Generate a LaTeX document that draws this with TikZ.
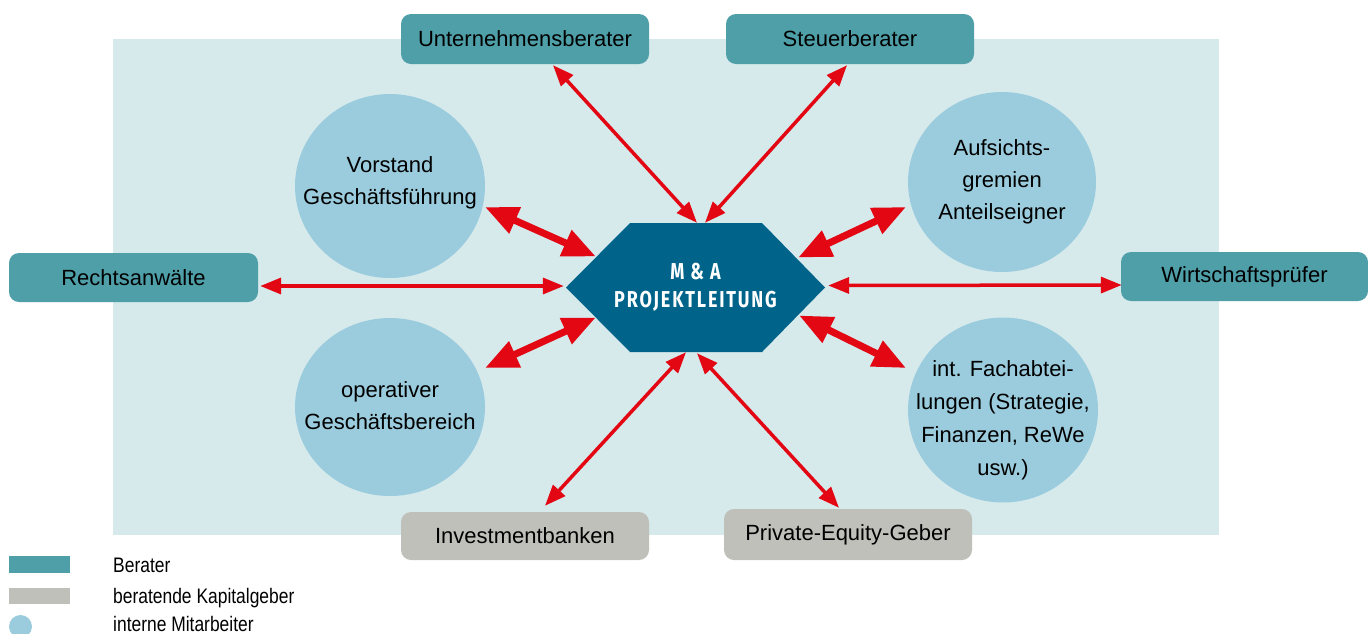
\documentclass[tikz,border=0pt]{standalone}
\usepackage{fontspec}
\setmainfont{Liberation Sans}
\newfontfamily\hexfont[LetterSpace=8,FakeStretch=0.78]{Fira Sans}
\newfontfamily\legfont[FakeStretch=0.83]{Liberation Sans}
\usetikzlibrary{arrows.meta,calc,shapes.geometric}
\definecolor{bgc}{HTML}{D6EAEC}
\definecolor{beraterc}{HTML}{4F9FA9}
\definecolor{kapitalc}{HTML}{C0C0BB}
\definecolor{circc}{HTML}{9BCCDD}
\definecolor{hexc}{HTML}{00648A}
\definecolor{arrred}{HTML}{E30613}
\begin{document}
\begin{tikzpicture}[x=1pt,y=-1pt,
  box/.style={rectangle,rounded corners=10pt,inner sep=0pt,minimum width=248pt,minimum height=50pt,font=\fontsize{22}{26}\selectfont,text=black},
  berater/.style={box,fill=beraterc},
  kapital/.style={box,fill=kapitalc},
  circ/.style={ellipse,fill=circc,inner sep=0pt},
  ctext/.style={align=center,inner sep=0pt,font=\fontsize{22}{32}\selectfont,text=black},
  hexnode/.style={rectangle,inner sep=0pt,minimum width=259pt,minimum height=129pt,align=center,text=white,font=\hexfont\bfseries\fontsize{23}{28}\selectfont},
  thinarr/.style={draw=arrred,line width=3.5pt,arrows={Triangle[length=21pt,width=16pt]-Triangle[length=21pt,width=16pt]}},
  thickarr/.style={draw=arrred,line width=7pt,arrows={Triangle[length=33pt,width=27pt]-Triangle[length=33pt,width=27pt]}},
  legtext/.style={anchor=base west,inner sep=0pt,font=\legfont\fontsize{21}{24}\selectfont}
]
\useasboundingbox (0,0) rectangle (1368,633);
\fill[bgc] (113,39) rectangle (1219,535);

% boxes
\node[berater] (ub) at (525,39) {Unternehmensberater};
\node[berater] (sb) at (850,39) {Steuerberater};
\node[berater,minimum width=249pt,minimum height=49pt] (ra) at (133.5,277.5) {Rechtsanwälte};
\node[berater,minimum width=247pt,minimum height=49pt] (wp) at (1244.5,276.5) {Wirtschaftsprüfer};
\node[kapital,minimum height=48pt] (ib) at (525,536) {Investmentbanken};
\node[kapital,minimum height=51pt] (pe) at (848,534.5) {Private-Equity-Geber};

% circles
\node[circ,minimum width=190pt,minimum height=184pt] (vs) at (390,186) {};
\node[circ,minimum width=188pt,minimum height=180pt] (ag) at (1002,182) {};
\node[circ,minimum width=190pt,minimum height=178pt] (op) at (390,407) {};
\node[circ,minimum width=190pt,minimum height=185pt] (fa) at (1003,410) {};
\node[ctext] (vst) at (390,183) {Vorstand\\Geschäftsführung};
\node[ctext] (agt) at (1002,182) {Aufsichts-\\gremien\\Anteilseigner};
\node[ctext] (opt) at (390,406) {operativer\\Geschäftsbereich};
\node[ctext,font=\fontsize{22}{33}\selectfont] (fat) at (1003,420) {int. Fachabtei-\\lungen (Strategie,\\Finanzen, ReWe\\usw.)};

% hexagon
\fill[hexc] (630,223) -- (762,223) -- (825,287.5) -- (762,352) -- (630,352) -- (566,287.5) -- cycle;
\node[hexnode] (hex) at (695.5,287.5) {M \& A\\PROJEKTLEITUNG};

% thin arrows
\draw[thinarr] ($(ub.south)+(28,1)$) -- ($(hex.north)+(1.5,0)$);
\draw[thinarr] ($(sb.south)+(-3,1)$) -- ($(hex.north)+(9.5,0)$);
\draw[thinarr] ($(ra.east)+(2,8.5)$) -- ($(hex.west)+(-2,-1.5)$);
\draw[thinarr] ($(wp.west)+(1,8.5)$) -- ($(hex.east)+(3,-2)$);
\draw[thinarr] ($(ib.north)+(20,-6)$) -- ($(hex.south)+(-9.5,0)$);
\draw[thinarr] ($(pe.north)+(-9,-1)$) -- ($(hex.south)+(1.5,1)$);

% thick arrows
\draw[thickarr] ($(vs.center)+(95,21)$) -- ($(hex.west)+(30,-31)$);
\draw[thickarr] ($(op.center)+(95,-39)$) -- ($(hex.west)+(30,30)$);
\draw[thickarr] ($(ag.center)+(-96,25)$) -- ($(hex.east)+(-27,-30)$);
\draw[thickarr] ($(fa.center)+(-97,-42)$) -- ($(hex.east)+(-26,28)$);

% legend
\fill[beraterc] (9,556) rectangle (70,573);
\fill[kapitalc] (9,588) rectangle (70,604);
\fill[circc] (20.5,626.5) circle (11.5);
\node[legtext] (l1) at (113,572) {Berater};
\node[legtext] (l2) at (113,603) {beratende Kapitalgeber};
\node[legtext] (l3) at (113,631) {interne Mitarbeiter};
\end{tikzpicture}
\end{document}
